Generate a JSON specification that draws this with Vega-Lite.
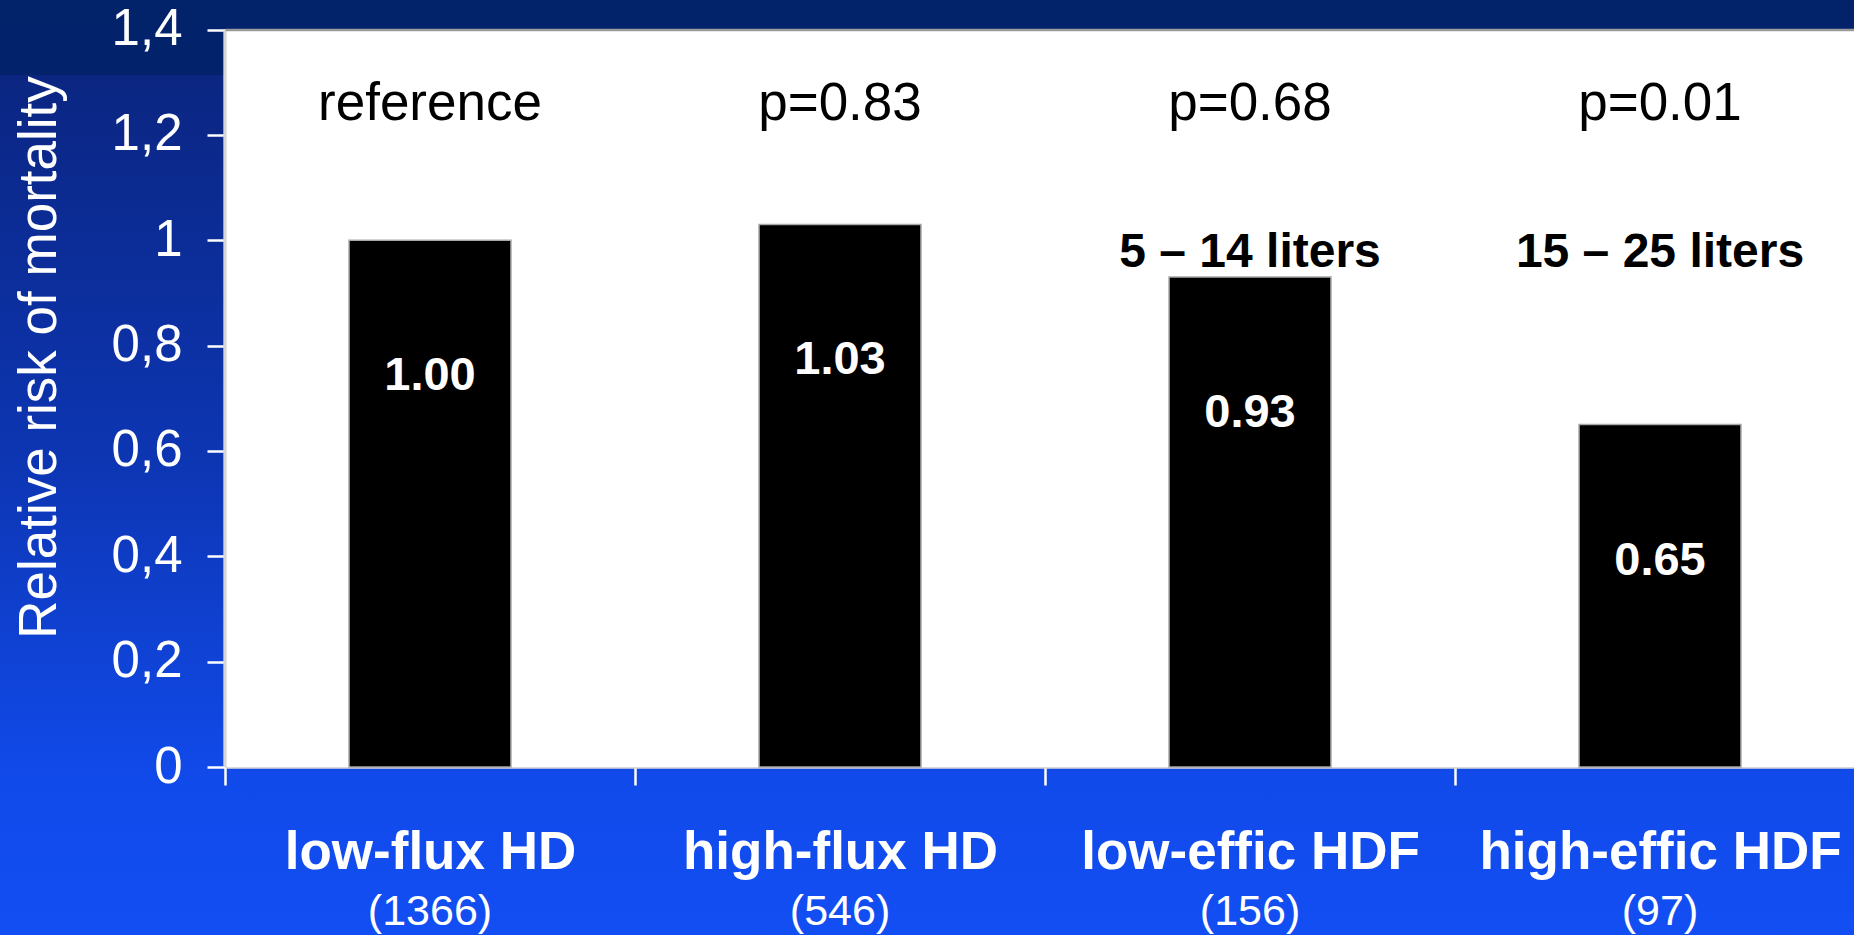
{
  "$schema": "https://vega.github.io/schema/vega-lite/v6.json",
  "width": 1854,
  "height": 935,
  "padding": 0,
  "autosize": {"type": "none"},
  "background": "#124ef2",
  "view": {
    "stroke": null,
    "fill": {
      "gradient": "linear",
      "x1": 0, "y1": 0, "x2": 0, "y2": 1,
      "stops": [
        {"offset": 0, "color": "#02226a"},
        {"offset": 0.08, "color": "#02236c"},
        {"offset": 0.081, "color": "#0b2682"},
        {"offset": 0.5, "color": "#0d36b4"},
        {"offset": 0.83, "color": "#114aea"},
        {"offset": 1, "color": "#124ef3"}
      ]
    }
  },
  "config": {
    "font": "Liberation Sans",
    "text": {"font": "Liberation Sans"}
  },
  "data": {
    "values": [
      {"group": "low-flux HD", "patients": "(1366)", "rr": 1.00, "p": "reference", "volume": null},
      {"group": "high-flux HD", "patients": "(546)", "rr": 1.03, "p": "p=0.83", "volume": null},
      {"group": "low-effic HDF", "patients": "(156)", "rr": 0.93, "p": "p=0.68", "volume": "5 – 14 liters"},
      {"group": "high-effic HDF", "patients": "(97)", "rr": 0.65, "p": "p=0.01", "volume": "15 – 25 liters"}
    ]
  },
  "resolve": {"axis": {"x": "independent", "y": "independent"}},
  "layer": [
    {
      "mark": {"type": "rect", "fill": "white"},
      "encoding": {
        "x": {
          "field": "group", "type": "nominal", "sort": null,
          "scale": {"domain": ["low-flux HD", "high-flux HD", "low-effic HDF", "high-effic HDF"], "range": [225, 1865], "paddingInner": 0, "paddingOuter": 0},
          "axis": {"orient": "top", "offset": -29.5, "labels": false, "ticks": false, "title": null, "domain": true, "domainColor": "#9a9a9a", "domainWidth": 2.5}
        },
        "y": {
          "datum": 0, "type": "quantitative",
          "scale": {"domain": [-0.3189, 1.456], "nice": false, "zero": false},
          "axis": null
        },
        "y2": {"datum": 1.4}
      }
    },
    {
      "mark": {"type": "rule", "color": "#d6d6d6", "strokeWidth": 2.5},
      "encoding": {
        "x": {"datum": "low-flux HD", "type": "nominal", "bandPosition": 0, "axis": null},
        "y": {"datum": 0, "type": "quantitative", "axis": null},
        "y2": {"datum": 1.4}
      }
    },
    {
      "mark": {"type": "bar", "fill": "black", "stroke": "#a8a8a8", "strokeWidth": 1.5, "width": {"band": 0.395}},
      "encoding": {
        "x": {
          "field": "group", "type": "nominal", "sort": null,
          "axis": {
            "orient": "bottom", "offset": -168, "title": null,
            "domain": true, "domainColor": "#d9d9d9", "domainWidth": 2.5,
            "ticks": true, "tickBand": "extent", "tickColor": "white", "tickSize": 18, "tickWidth": 2.5,
            "labelAngle": 0, "labelFont": "Liberation Sans", "labelFontSize": 53, "labelFontWeight": "bold",
            "labelColor": "white", "labelBaseline": "alphabetic", "labelPadding": 83, "labelLimit": 0,
            "labelOverlap": false, "labelBound": false, "labelFlush": false, "grid": false
          }
        },
        "y": {
          "field": "rr", "type": "quantitative",
          "axis": {
            "orient": "left", "offset": -225,
            "values": [0, 0.2, 0.4, 0.6, 0.8, 1, 1.2, 1.4],
            "labelExpr": "replace(format(datum.value, '~g'), '.', ',')",
            "labelFont": "Liberation Sans", "labelFontSize": 51, "labelColor": "white", "labelPadding": 25,
            "labelOverlap": false, "labelBound": false, "labelFlush": false,
            "ticks": true, "tickColor": "white", "tickSize": 18, "tickWidth": 2.5,
            "domain": false, "grid": false,
            "title": "Relative risk of mortality",
            "titleFont": "Liberation Sans", "titleFontSize": 53, "titleFontWeight": "normal", "titleColor": "white",
            "titleAngle": -90, "titleAlign": "center", "titleBaseline": "alphabetic",
            "titleX": -170, "titleY": 357
          }
        }
      }
    },
    {
      "mark": {"type": "text", "color": "white", "fontSize": 47, "fontWeight": "bold", "baseline": "alphabetic", "dy": 150},
      "encoding": {
        "x": {"field": "group", "type": "nominal", "sort": null, "axis": null},
        "y": {"field": "rr", "type": "quantitative", "axis": null},
        "text": {"field": "rr", "type": "quantitative", "format": ".2f"}
      }
    },
    {
      "mark": {"type": "text", "color": "black", "fontSize": 53, "baseline": "alphabetic"},
      "encoding": {
        "x": {"field": "group", "type": "nominal", "sort": null, "axis": null},
        "y": {"datum": 1.228, "type": "quantitative", "axis": null},
        "text": {"field": "p", "type": "nominal"}
      }
    },
    {
      "transform": [{"filter": "isValid(datum.volume)"}],
      "mark": {"type": "text", "color": "black", "fontSize": 48, "fontWeight": "bold", "baseline": "alphabetic"},
      "encoding": {
        "x": {"field": "group", "type": "nominal", "sort": null, "axis": null},
        "y": {"datum": 0.949, "type": "quantitative", "axis": null},
        "text": {"field": "volume", "type": "nominal"}
      }
    },
    {
      "mark": {"type": "text", "color": "white", "fontSize": 43, "baseline": "alphabetic"},
      "encoding": {
        "x": {"field": "group", "type": "nominal", "sort": null, "axis": null},
        "y": {"datum": -0.3, "type": "quantitative", "axis": null},
        "text": {"field": "patients", "type": "nominal"}
      }
    }
  ]
}
